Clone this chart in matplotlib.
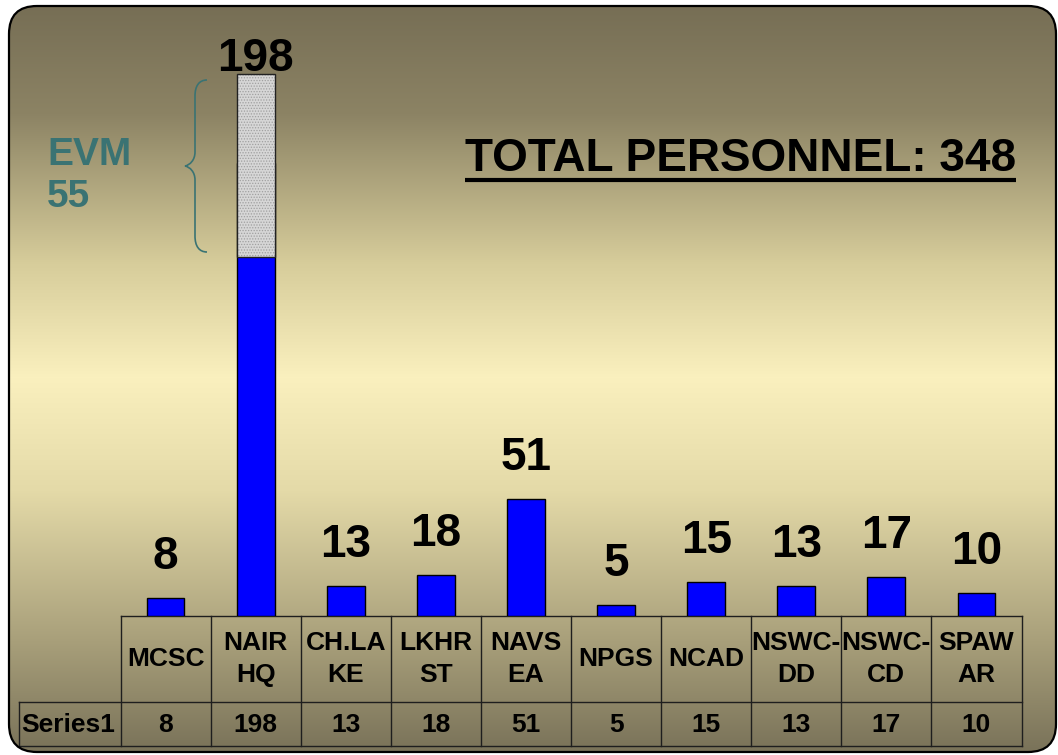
import numpy as np
import matplotlib.pyplot as plt
from matplotlib.patches import FancyBboxPatch, PathPatch
from matplotlib.path import Path

# data
sites = ['MCSC', 'NAIR\nHQ', 'CH.LA\nKE', 'LKHR\nST', 'NAVS\nEA', 'NPGS',
         'NCAD', 'NSWC-\nDD', 'NSWC-\nCD', 'SPAW\nAR']
personnel = [8, 198, 13, 18, 51, 5, 15, 13, 17, 10]
series_name = 'Series1'
evm_label = 'EVM'
evm_count = 55
evm_block = [157, 237]   # hatched EVM block drawn on NAIR HQ (as it sits in the picture)
total = sum(personnel)

plt.rcParams['font.family'] = ['Liberation Sans', 'DejaVu Sans']
plt.rcParams['font.weight'] = 'bold'
plt.rcParams['hatch.linewidth'] = 0.6

W, H = 1058, 755
fig = plt.figure(figsize=(W / 100, H / 100), dpi=100)

# background: rounded frame with vertical gradient
bg = fig.add_axes([0, 0, 1, 1])
stops_y = [0, .15, .35, .5, .65, .85, 1]
stops_rgb = [(117, 109, 84), (140, 131, 100), (215, 205, 155), (250, 240, 190),
             (228, 218, 168), (168, 159, 122), (120, 113, 88)]
yy = np.linspace(0, 1, H)
grad = np.stack([np.interp(yy, stops_y, [c[k] for c in stops_rgb]) for k in range(3)],
                axis=-1) / 255
im = bg.imshow(grad[:, None, :], extent=(0, W, H, 0), aspect='auto', zorder=0)
frame = FancyBboxPatch((9, 6), 1047, 746, boxstyle='round,pad=0,rounding_size=28',
                       fc='none', ec='black', lw=1.6, zorder=3)
bg.add_patch(frame)
im.set_clip_path(frame)
bg.set_xlim(0, W)
bg.set_ylim(H, 0)
bg.axis('off')

# bars
x0, x1, base, top = 120.5, 1021.5, 616, 40
ax = fig.add_axes([x0 / W, (H - base) / H, (x1 - x0) / W, (base - top) / H])
ax.patch.set_alpha(0)
x = np.arange(len(sites))
ax.bar(x, personnel, width=0.42, color='#0000ff', edgecolor='black', lw=1, zorder=2)
nair = 1
ax.bar(nair, evm_block[1] - evm_block[0], bottom=evm_block[0], width=0.42,
       color='#d6d6d6', hatch='......', edgecolor='#a0a0a0', lw=0, zorder=3)
ax.bar(nair, evm_block[1] - evm_block[0], bottom=evm_block[0], width=0.42,
       fill=False, edgecolor='#222222', lw=1, zorder=4)
for i, v in enumerate(personnel):
    if i == nair:
        y, off = evm_block[1], 3
    else:
        y, off = v, 29
    ax.annotate(str(v), (i, y), xytext=(0, off * 0.72), textcoords='offset points',
                ha='center', va='baseline', fontsize=33, fontweight='bold')
ax.set_xlim(-0.5, 9.5)
ax.set_ylim(0, 252)
ax.axis('off')

# title
t = bg.text(1016, 171, f'TOTAL PERSONNEL: {total}', ha='right', va='baseline',
            fontsize=33, fontweight='bold')
fig.canvas.draw()
bb = t.get_window_extent()
bg.plot([bb.x0, bb.x1], [180, 180], color='black', lw=3, solid_capstyle='butt')

# EVM note and brace
teal = '#3a7373'
bg.text(47, 165, evm_label, color=teal, fontsize=28, fontweight='bold')
bg.text(47, 207, str(evm_count), color=teal, fontsize=28, fontweight='bold')
verts = [(207, 80), (199, 80), (195, 86), (195, 96), (195, 152),
         (195, 160), (190, 165), (185, 166), (190, 167), (195, 172), (195, 180),
         (195, 236), (195, 246), (199, 252), (207, 252)]
codes = [Path.MOVETO] + [Path.CURVE4] * 3 + [Path.LINETO] + [Path.CURVE4] * 6 + \
        [Path.LINETO] + [Path.CURVE4] * 3
bg.add_patch(PathPatch(Path(verts, codes), fc='none', ec=teal, lw=1.2, zorder=4))

# data table
col_w = (x1 - x0) / len(sites)
y_top, y_mid, y_bot, hx = 616, 701.5, 746, 19
lc = '#1e1e1e'
for i in range(len(sites) + 1):
    cx = x0 + col_w * i
    bg.plot([cx, cx], [y_top, y_bot], color=lc, lw=1)
bg.plot([x0, x1], [y_top, y_top], color=lc, lw=1)
bg.plot([hx, x1], [y_mid, y_mid], color=lc, lw=1)
bg.plot([hx, x1], [y_bot, y_bot], color=lc, lw=1)
bg.plot([hx, hx], [y_mid, y_bot], color=lc, lw=1)
for i, s in enumerate(sites):
    cx = x0 + col_w * (i + 0.5)
    bg.text(cx, 659, s, ha='center', va='center', fontsize=19, fontweight='bold',
            linespacing=1.45)
    bg.text(cx, 725, str(personnel[i]), ha='center', va='center', fontsize=19,
            fontweight='bold')
bg.text((hx + x0) / 2 - 2, 725, series_name, ha='center', va='center', fontsize=19,
        fontweight='bold')

fig.savefig('out.png', dpi=100, facecolor='white')
